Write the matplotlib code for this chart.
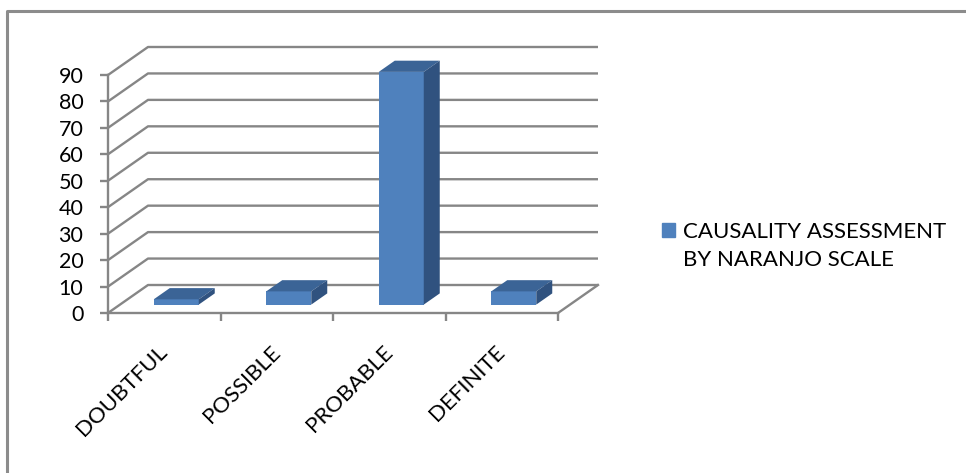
import matplotlib
matplotlib.use('Agg')
import matplotlib.pyplot as plt
from matplotlib.patches import Polygon, Rectangle
from matplotlib.lines import Line2D

plt.rcParams['font.family'] = ['Lato', 'DejaVu Sans']

# Causality assessment (Naranjo scale), percent of cases
categories = ['DOUBTFUL', 'POSSIBLE', 'PROBABLE', 'DEFINITE']
values = [2, 5, 88, 5]
y_ticks = list(range(0, 100, 10))
series_name = 'CAUSALITY ASSESSMENT\nBY NARANJO SCALE'

front_col = '#4f81bd'
top_col = '#3b6496'
side_col = '#30527f'
grid_col = '#868686'

W, H = 966, 473
fig = plt.figure(figsize=(W / 100, H / 100), dpi=100)
fig.patch.set_facecolor('white')

# front plane of the pseudo-3D box: x in category slots, y in value units
ax = fig.add_axes([108 / W, (H - 313) / H, 450 / W, 238 / H])
ax.set_xlim(0, len(categories))
ax.set_ylim(0, 90)
ax.patch.set_visible(False)

# depth of the box, expressed in data units
DX = 40 / 112.5
DY = 28 / (238 / 90)

# walls: gridlines running back along the side wall and across the back wall
nx = len(categories)
for v in y_ticks:
    ax.plot([0, DX, nx + DX], [v, v + DY, v + DY], color=grid_col, lw=1.7,
            clip_on=False, zorder=1, solid_capstyle='butt')
ax.plot([nx, nx + DX], [0, DY], color=grid_col, lw=1.7, clip_on=False, zorder=1)

# bars sit in the middle of the floor depth
f0, f1 = 0.3, 0.7
bar_w = 0.4
base = f0 * DY
ddx, ddy = (f1 - f0) * DX, (f1 - f0) * DY
x_left = [i + 0.3 + f0 * DX for i in range(nx)]
ax.bar(x_left, values, width=bar_w, bottom=base, align='edge',
       color=front_col, clip_on=False, zorder=3)
for x0, v in zip(x_left, values):
    x1 = x0 + bar_w
    y1 = base + v
    top = Polygon([(x0, y1), (x1, y1), (x1 + ddx, y1 + ddy), (x0 + ddx, y1 + ddy)],
                  closed=True, facecolor=top_col, edgecolor='none',
                  clip_on=False, zorder=3)
    side = Polygon([(x1, base), (x1, y1), (x1 + ddx, y1 + ddy), (x1 + ddx, base + ddy)],
                   closed=True, facecolor=side_col, edgecolor='none',
                   clip_on=False, zorder=3)
    ax.add_patch(top)
    ax.add_patch(side)

# axes lines and ticks
for s in ['top', 'right']:
    ax.spines[s].set_visible(False)
for s in ['left', 'bottom']:
    ax.spines[s].set_color(grid_col)
    ax.spines[s].set_linewidth(1.7)

ax.set_yticks(y_ticks)
ax.tick_params(axis='y', length=5.8, width=1.7, color=grid_col, pad=12,
               labelsize=15.5, labelcolor='black')

ax.set_xticks(range(nx + 1))
ax.set_xticklabels([])
ax.tick_params(axis='x', which='major', length=5.8, width=1.7, color=grid_col)
ax.set_xticks([i + 0.5 for i in range(nx)], labels=categories, minor=True)
ax.tick_params(axis='x', which='minor', length=0, pad=26, labelsize=16,
               labelrotation=45)
for lbl in ax.get_xticklabels(minor=True):
    lbl.set_ha('right')
    lbl.set_va('center')
    lbl.set_rotation_mode('anchor')

# legend
fig.add_artist(Rectangle((662 / W, 1 - 237 / H), 13 / W, 14 / H,
                         transform=fig.transFigure, color=front_col))
fig.text(683 / W, 1 - 246 / H, series_name, ha='left', va='center',
         fontsize=16, linespacing=1.5)

# chart area border
fig.add_artist(Line2D([7 / W, 7 / W, 1], [0, 1 - 11 / H, 1 - 11 / H],
                      transform=fig.transFigure, color='#8c8c8c', lw=2.2))

plt.savefig('out.png', dpi=100)
plt.close(fig)
